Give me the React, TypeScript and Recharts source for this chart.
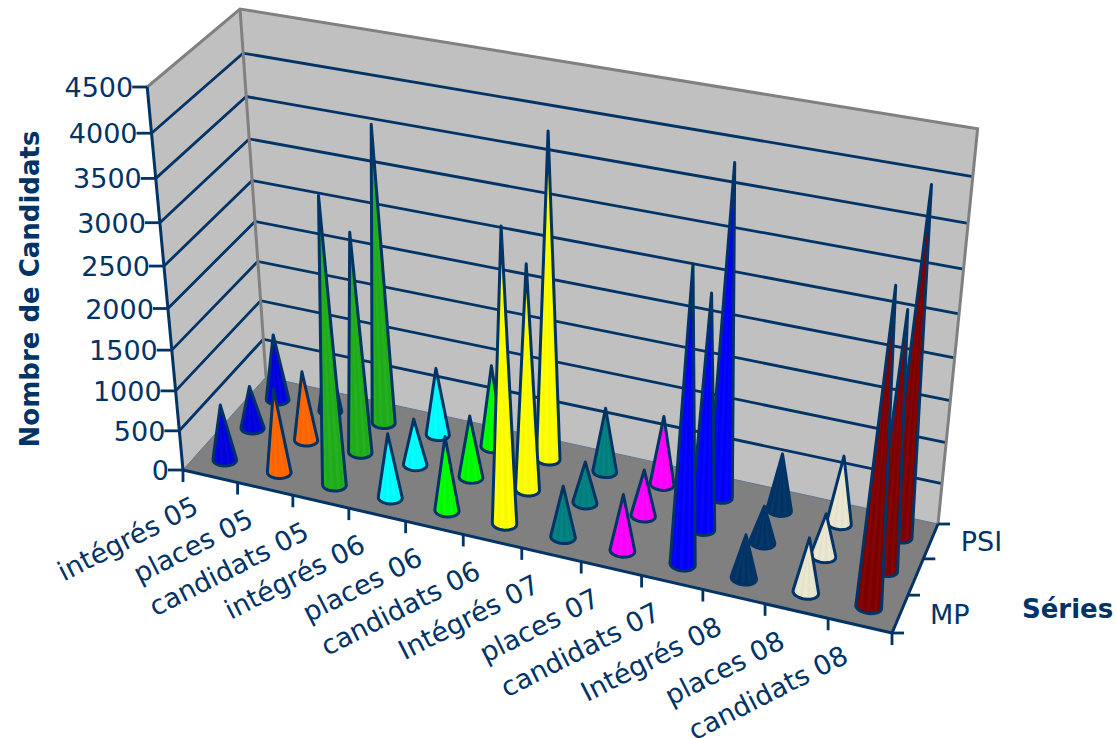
import React from 'react';
import { BarChart, Bar, XAxis, YAxis, Customized } from 'recharts';

const categories = ['intégrés 05', 'places 05', 'candidats 05', 'intégrés 06', 'places 06', 'candidats 06', 'Intégrés 07', 'places 07', 'candidats 07', 'Intégrés 08', 'places 08', 'candidats 08'];
const seriesMP = [700, 1050, 3450, 800, 920, 3485, 630, 690, 3460, 530, 660, 3625];
const seriesPC = [540, 875, 2700, 580, 770, 2725, 510, 570, 2795, 450, 520, 3015];
const seriesPSI = [840, 820, 3635, 850, 1030, 3905, 800, 850, 3910, 700, 830, 4035];
const coneColors = ['#0000E0', '#FF6600', '#20B01A', '#00FFFF', '#00FF00', '#FFFF00', '#008080', '#FF00FF', '#0000FF', '#003366', '#EAE8D0', '#800000'];
const yTicks = [0, 500, 1000, 1500, 2000, 2500, 3000, 3500, 4000, 4500];
const depthLabels = ['MP', '', 'PSI'];
const rowDepths = [0.5 / 3, 1.5 / 3, 2.5 / 3 - 0.02];
const rows = categories.map((name, i) => ({ name, MP: seriesMP[i], PC: seriesPC[i], PSI: seriesPSI[i] }));

const W = 1117, H = 738, YMAX = 4500;
const PW = W - 1, PH = H - 1;
const NAVY = '#003366', GRAY = '#808080';
const FONT = '"DejaVu Sans", sans-serif';

type P = [number, number];
const FL: P = [183, 470], FR: P = [892, 633], BR: P = [938, 524], BL: P = [266, 377];
const VP: P = [550, 4400];
const hom = (() => {
  const [x0, y0] = FL, [x1, y1] = FR, [x2, y2] = BR, [x3, y3] = BL;
  const dx1 = x1 - x2, dx2 = x3 - x2, sx = x0 - x1 + x2 - x3;
  const dy1 = y1 - y2, dy2 = y3 - y2, sy = y0 - y1 + y2 - y3;
  const det = dx1 * dy2 - dx2 * dy1;
  const g = (sx * dy2 - dx2 * sy) / det, h = (dx1 * sy - sx * dy1) / det;
  return { a: x1 - x0 + g * x1, b: x3 - x0 + h * x3, c: x0, d: y1 - y0 + g * y1, e: y3 - y0 + h * y3, f: y0, g, h };
})();
const KV = -0.0888;
function project(uIn: number, s: number, t: number): P {
  const u = uIn - 0.005 * Math.sin(Math.PI * uIn);
  const w = hom.g * u + hom.h * s + 1;
  const X = hom.a * u + hom.b * s + hom.c;
  const Y = hom.d * u + hom.e * s + hom.f;
  const k = KV * t * (1 + 0.035 * u);
  return [(X + k * VP[0]) / (w + k), (Y + k * VP[1]) / (w + k)];
}
const pts = (a: P[]) => a.map(p => p[0].toFixed(1) + ',' + p[1].toFixed(1)).join(' ');

function hull(points: P[]): P[] {
  const s = [...points].sort((a, b) => a[0] - b[0] || a[1] - b[1]);
  const cross = (o: P, a: P, b: P) => (a[0] - o[0]) * (b[1] - o[1]) - (a[1] - o[1]) * (b[0] - o[0]);
  const lo: P[] = [], up: P[] = [];
  for (const p of s) { while (lo.length > 1 && cross(lo[lo.length - 2], lo[lo.length - 1], p) <= 0) lo.pop(); lo.push(p); }
  for (const p of [...s].reverse()) { while (up.length > 1 && cross(up[up.length - 2], up[up.length - 1], p) <= 0) up.pop(); up.push(p); }
  return lo.slice(0, -1).concat(up.slice(0, -1));
}

function Cone(props: any) {
  const { x, y, width, index, row } = props;
  const u = (x + width / 2 - 1) / PW;
  const s = rowDepths[row];
  const t = 1 - y / PH;
  const ru = 0.2 / 12, rs = 0.17 / 3;
  const n = 20;
  const base: P[] = [];
  for (let i = 0; i < n; i++) {
    const a = (i / n) * Math.PI * 2;
    base.push(project(u + ru * Math.cos(a), s + rs * Math.sin(a), 0));
  }
  const apex = project(u, s, t);
  const outline = hull([...base, apex]);
  const color = coneColors[index];
  const facets = [];
  for (let i = n / 2; i < n; i++) {
    facets.push(
      <polygon key={i} points={pts([apex, base[i], base[(i + 1) % n]])} fill={i % 2 ? '#ffffff' : '#000000'} fillOpacity={0.025} />
    );
  }
  return (
    <g>
      <polygon points={pts(outline)} fill={color} />
      {facets}
      <polygon points={pts(outline)} fill="none" stroke={NAVY} strokeWidth={3} strokeLinejoin="round" />
    </g>
  );
}

function Scene() {
  const TFL = project(0, 0, 1), TBL = project(0, 1, 1), TBR = project(1, 1, 1);
  const uTicks = categories.map((_, i) => i / categories.length).concat(1);
  return (
    <g>
      <polygon points={pts([FL, BL, TBL, TFL])} fill="#C0C0C0" />
      <polygon points={pts([BL, BR, TBR, TBL])} fill="#C0C0C0" />
      <polygon points={pts([FL, FR, BR, BL])} fill={GRAY} />
      {yTicks.slice(1, -1).map(v => {
        const t = v / YMAX;
        const a = project(0, 0, t), b = project(0, 1, t), c = project(1, 1, t);
        return <polyline key={v} points={pts([a, b, c])} fill="none" stroke={NAVY} strokeWidth={2.8} />;
      })}
      <polyline points={pts([TFL, TBL, TBR, BR])} fill="none" stroke={GRAY} strokeWidth={3} />
      <line x1={BL[0]} y1={BL[1]} x2={TBL[0]} y2={TBL[1]} stroke={GRAY} strokeWidth={3} />
      <polyline points={pts([FL, BL, BR])} fill="none" stroke="#5F7390" strokeWidth={1} />
      <polyline points={pts([TFL, FL, FR, BR])} fill="none" stroke={NAVY} strokeWidth={3} />
      {uTicks.map((u, i) => {
        const p = project(u, 0, 0);
        return <line key={i} x1={p[0]} y1={p[1]} x2={p[0]} y2={p[1] + 12} stroke={NAVY} strokeWidth={2.8} />;
      })}
      {[0, 1, 2, 3].map(i => {
        const p = project(1, i / 3, 0);
        return <line key={i} x1={p[0]} y1={p[1]} x2={p[0] + 12} y2={p[1]} stroke={NAVY} strokeWidth={2.8} />;
      })}
      {depthLabels.map((d, i) => {
        const p = project(1, (i + 0.5) / 3, 0);
        return d ? <text key={i} x={p[0] + 30} y={p[1] + 10} fontFamily={FONT} fontSize={27} fill={NAVY}>{d}</text> : null;
      })}
      <text x={1022} y={618} fontFamily={FONT} fontSize={26} fontWeight="bold" fill={NAVY}>Séries</text>
      <text transform="translate(39,289) rotate(-90)" textAnchor="middle" fontFamily={FONT} fontSize={26} fontWeight="bold" fill={NAVY}>Nombre de Candidats</text>
    </g>
  );
}

function XTick(props: any) {
  const { x, payload } = props;
  const p = project((x - 1) / PW, 0, 0);
  const ax = p[0] - 10, ay = p[1] + 36;
  return (
    <text x={ax} y={ay} transform={`rotate(-27 ${ax} ${ay})`} textAnchor="end" fontFamily={FONT} fontSize={27} fill={NAVY}>{payload.value}</text>
  );
}

function YTick(props: any) {
  const { y, payload } = props;
  const p = project(0, 0, 1 - y / PH);
  return (
    <g>
      <line x1={p[0] - 15} y1={p[1]} x2={p[0]} y2={p[1]} stroke={NAVY} strokeWidth={2.8} />
      <text x={p[0] - 14} y={p[1] + 10} textAnchor="end" fontFamily={FONT} fontSize={27} fill={NAVY}>{payload.value}</text>
    </g>
  );
}

export default function App() {
  return (
    <div style={{ position: 'absolute', left: 0, top: 0, width: W, height: H }}>
      <BarChart width={W} height={H} data={rows} margin={{ top: 0, right: 0, bottom: 0, left: 0 }} barSize={20} barGap={-20}>
        <Customized component={Scene} />
        <XAxis dataKey="name" height={1} interval={0} axisLine={false} tickLine={false} tick={XTick} />
        <YAxis width={1} domain={[0, YMAX]} ticks={yTicks} interval={0} axisLine={false} tickLine={false} tick={YTick} />
        <Bar dataKey="PSI" isAnimationActive={false} shape={(p: any) => <Cone {...p} row={2} />} />
        <Bar dataKey="PC" isAnimationActive={false} shape={(p: any) => <Cone {...p} row={1} />} />
        <Bar dataKey="MP" isAnimationActive={false} shape={(p: any) => <Cone {...p} row={0} />} />
      </BarChart>
    </div>
  );
}
